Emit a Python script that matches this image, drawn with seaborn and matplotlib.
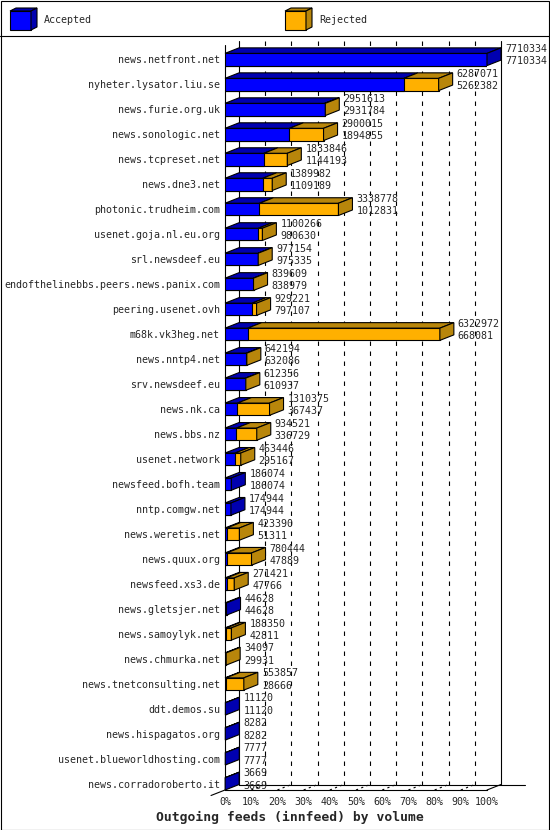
import numpy as np
import pandas as pd
import matplotlib
matplotlib.use('Agg')
import matplotlib.pyplot as plt
from matplotlib.patches import Polygon, Rectangle
from matplotlib.lines import Line2D
import seaborn as sns

sns.set_style('white')
plt.rcParams['font.family'] = ['DejaVu Sans Mono']

hosts = ['news.netfront.net', 'nyheter.lysator.liu.se', 'news.furie.org.uk',
         'news.sonologic.net', 'news.tcpreset.net', 'news.dne3.net',
         'photonic.trudheim.com', 'usenet.goja.nl.eu.org', 'srl.newsdeef.eu',
         'endofthelinebbs.peers.news.panix.com', 'peering.usenet.ovh',
         'm68k.vk3heg.net', 'news.nntp4.net', 'srv.newsdeef.eu', 'news.nk.ca',
         'news.bbs.nz', 'usenet.network', 'newsfeed.bofh.team', 'nntp.comgw.net',
         'news.weretis.net', 'news.quux.org', 'newsfeed.xs3.de',
         'news.gletsjer.net', 'news.samoylyk.net', 'news.chmurka.net',
         'news.tnetconsulting.net', 'ddt.demos.su', 'news.hispagatos.org',
         'usenet.blueworldhosting.com', 'news.corradoroberto.it']
offered = [7710334, 6287071, 2951613, 2900015, 1833846, 1389982, 3338778,
           1100266, 977154, 839609, 929221, 6322972, 642194, 612356, 1310375,
           934521, 463446, 186074, 174944, 423390, 780444, 271421, 44628,
           188350, 34097, 553857, 11120, 8282, 7777, 3669]
accepted = [7710334, 5262382, 2931784, 1894855, 1144193, 1109189, 1012831,
            980630, 975335, 838979, 797107, 668081, 632086, 610937, 367437,
            336729, 295167, 186074, 174944, 51311, 47889, 47766, 44628,
            42811, 29931, 28666, 11120, 8282, 7777, 3669]
ticks = list(range(0, 101, 10))

BLUE, BLUE_D = '#0000ff', '#0000b0'
ORANGE, ORANGE_D = '#ffb000', '#b8860b'

W, H = 550, 830
fig = plt.figure(figsize=(W / 100, H / 100), dpi=100)
X0, X1, YT, YB = 225, 487, 47, 790   # front plot box in pixels
ax = fig.add_axes([X0 / W, 1 - YB / H, (X1 - X0) / W, (YB - YT) / H])

top = max(offered)
df = pd.DataFrame({'host': hosts,
                   'offered': np.array(offered) / top * 100,
                   'accepted': np.array(accepted) / top * 100})

BAR = 0.49
kw = dict(orient='h', saturation=1, width=BAR, edgecolor='black',
          linewidth=0.8, errorbar=None, ax=ax, zorder=3)
sns.barplot(data=df, x='offered', y='host', color=ORANGE, **kw)
sns.barplot(data=df, x='accepted', y='host', color=BLUE, **kw)

n = len(hosts)
floor = n - 1 + BAR / 2
ax.set_xlim(0, 100)
ax.set_ylim(floor, -0.5)
sx = (X1 - X0) / 100.0
sy = (YB - YT) / (floor + 0.5)
dx, dy = 14 / sx, -5.5 / sy      # depth of the 3d look
ytop = -0.5 - 6 / sy

# back wall
for k in ticks[1:-1]:
    ax.plot([k + dx, k + dx], [ytop, floor + dy], color='black', lw=0.8,
            ls=(0, (4, 5)), zorder=0.5, clip_on=False)
    ax.plot([k, k + dx], [floor, floor + dy], color='black', lw=0.8,
            ls=(0, (2, 3)), zorder=0.5, clip_on=False)
for xx in [dx, 100 + dx]:
    ax.plot([xx, xx], [ytop, floor + dy], color='black', lw=0.8, zorder=0.6, clip_on=False)
ax.plot([0, 0], [ytop + 0.15, floor], color='black', lw=0.8, zorder=0.6, clip_on=False)
ax.plot([dx, 300 / sx], [floor + dy, floor + dy], color='black', lw=0.8, zorder=0.6, clip_on=False)
ax.plot([100, 100 + dx], [floor, floor + dy], color='black', lw=0.8, zorder=0.6, clip_on=False)
ax.plot([-dx, 0], [floor - dy, floor], color='black', lw=0.8, zorder=0.6, clip_on=False)

# top and side faces of each bar
for i, (o, a) in enumerate(zip(df['offered'], df['accepted'])):
    yt, yb = i - BAR / 2, i + BAR / 2
    segs = [(0, a, BLUE_D)]
    if o > a:
        segs.append((a, o, ORANGE_D))
    for x0, x1, c in segs:
        ax.add_patch(Polygon([(x0, yt), (x1, yt), (x1 + dx, yt + dy), (x0 + dx, yt + dy)],
                             closed=True, fc=c, ec='black', lw=0.8, zorder=4, clip_on=False))
    end, c = segs[-1][1], segs[-1][2]
    ax.add_patch(Polygon([(end, yt), (end, yb), (end + dx, yb + dy), (end + dx, yt + dy)],
                         closed=True, fc=c, ec='black', lw=0.8, zorder=4, clip_on=False))
    ax.text(o + dx + 4 / sx, i - 10.5 / sy, str(offered[i]), ha='left', va='center',
            fontsize=7.2, zorder=5)
    ax.text(o + dx + 4 / sx, i + 1.75 / sy, str(accepted[i]), ha='left', va='center',
            fontsize=7.2, zorder=5)

ax.set_xticks(ticks)
ax.set_xticklabels([f'{k}%' for k in ticks])
ax.set_xlabel('')
ax.set_ylabel('')
ax.tick_params(axis='x', length=2.2, width=0.8, pad=2.5, labelsize=7.2, color='black')
ax.tick_params(axis='y', length=0, pad=3.6, labelsize=7.2)
for s in ['top', 'right', 'left']:
    ax.spines[s].set_visible(False)
ax.spines['bottom'].set_linewidth(0.8)
ax.spines['bottom'].set_color('black')
ax.patch.set_alpha(0)


# legend and frame, in figure pixels
def fp(pts):
    return [(x / W, 1 - y / H) for x, y in pts]


def cube(x, c, cd):
    y, w, h, d, e = 11, 21, 19, 6, 3
    for pts, col in [([(x, y), (x + w, y), (x + w, y + h), (x, y + h)], c),
                     ([(x, y), (x + d, y - e), (x + w + d, y - e), (x + w, y)], cd),
                     ([(x + w, y), (x + w + d, y - e), (x + w + d, y + h - e), (x + w, y + h)], cd)]:
        fig.add_artist(Polygon(fp(pts), closed=True, fc=col, ec='black', lw=0.8,
                               transform=fig.transFigure))


cube(10, BLUE, BLUE_D)
cube(285, ORANGE, ORANGE_D)
fig.text(44 / W, 1 - 20 / H, 'Accepted', ha='left', va='center', fontsize=7.2)
fig.text(319 / W, 1 - 20 / H, 'Rejected', ha='left', va='center', fontsize=7.2)
fig.add_artist(Line2D([0, 1], [1 - 36 / H, 1 - 36 / H], color='black', lw=0.8,
                      transform=fig.transFigure))
fig.add_artist(Rectangle((0.5 / W, 0.5 / H), 1 - 1.5 / W, 1 - 1.5 / H, fill=False,
                         ec='black', lw=0.8, transform=fig.transFigure))
fig.text(290 / W, 1 - 817 / H, 'Outgoing feeds (innfeed) by volume', ha='center',
         va='center', fontsize=9.4, fontweight='bold')

fig.savefig('out.png', dpi=100)
